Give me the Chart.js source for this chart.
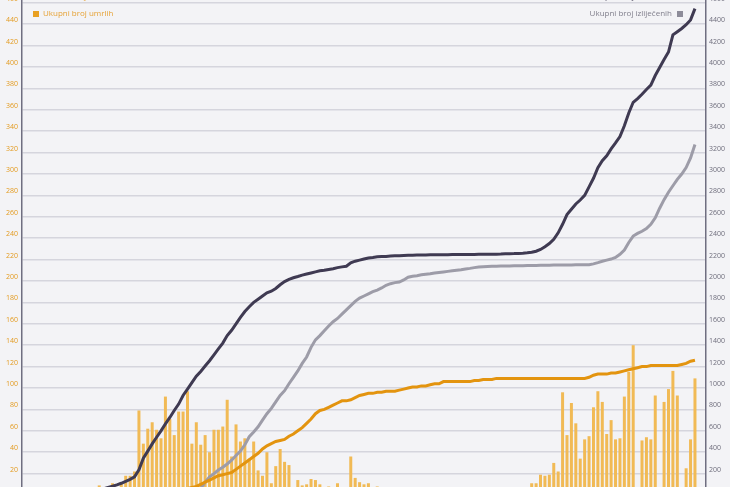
<!DOCTYPE html>
<html>
<head>
<meta charset="utf-8">
<title>COVID-19</title>
<script src="https://cdn.jsdelivr.net/npm/chart.js@4.4.1/dist/chart.umd.min.js"></script>
<style>
    body { margin: 0; background: #f3f3f6; overflow: hidden; font-family: "Open Sans", sans-serif; }
    #wrap { position: relative; width: 730px; height: 487px; overflow: hidden; }
    .leg { position: absolute; font-size: 8px; line-height: 10px; white-space: nowrap; }
    .sq { display: inline-block; width: 6px; height: 6px; vertical-align: -0.5px; }
    .cut .sq { vertical-align: 2px; }
</style>
</head>
<body>
<div id="wrap">
    <canvas id="covidChart" width="730" height="487"></canvas>
    <!-- gornji red legende je odrezan rubom slike -->
    <div class="leg cut" style="left:33px; top:-9px; color:#e6a235;"><span class="sq" style="background:#f1ba55; margin-right:4px;"></span>Dnevni broj zaraženih</div>
    <div class="leg cut" style="right:47px; top:-9px; color:#4a465c;">Ukupni broj zaraženih<span class="sq" style="background:#3f3a52; margin-left:5px;"></span></div>
    <div class="leg" style="left:33px; top:8px; color:#e6a235;"><span class="sq" style="background:#e8a023; margin-right:4px;"></span>Ukupni broj umrlih</div>
    <div class="leg" style="right:47px; top:8px; color:#807f8c;">Ukupni broj izliječenih<span class="sq" style="background:#8d8c99; margin-left:5px;"></span></div>
</div>
<script>
// novi slucajevi po danu (lijeva os)
var dailyCases = [
    0, 1, 2, 0, 0, 0, 1, 1, 2, 1, 0, 1, 1, 2, 3, 2, 4, 9, 6, 5,
    11, 6, 12, 18, 18, 22, 79, 48, 62, 68, 61, 53, 92, 71, 56, 78, 78, 97, 48, 68,
    47, 56, 40, 61, 61, 64, 89, 36, 66, 50, 53, 34, 50, 23, 18, 40, 11, 27, 43, 31,
    28, 7, 14, 9, 10, 15, 14, 10, 5, 8, 4, 11, 5, 3, 36, 16, 12, 10, 11, 4,
    8, 3, 2, 4, 1, 3, 2, 1, 2, 0, 1, 1, 0, 2, 1, 0, 0, 1, 0, 0,
    0, 1, 0, 1, 0, 0, 1, 2, 1, 4, 2, 3, 5, 6, 4, 11, 11, 19, 18, 19,
    30, 22, 96, 56, 86, 67, 34, 52, 55, 82, 97, 87, 57, 70, 52, 53, 92, 115, 140, 3,
    51, 54, 52, 93, 3, 87, 99, 116, 93, 3, 25, 52, 109
];

// ukupni broj zarazenih (desna os)
var totalCases = [
    0, 1, 3, 3, 5, 6, 7, 9, 10, 11, 12, 13, 14, 16, 19, 25, 32, 45, 58, 72,
    82, 95, 110, 128, 146, 170, 235, 345, 410, 478, 540, 600, 665, 725, 790, 850, 930, 990, 1050, 1110,
    1155, 1205, 1255, 1310, 1365, 1420, 1490, 1540, 1600, 1660, 1715, 1760, 1800, 1830, 1860, 1890, 1905, 1930, 1965, 1995,
    2015, 2030, 2042, 2055, 2065, 2075, 2085, 2095, 2100, 2108, 2115, 2125, 2132, 2138, 2170, 2185, 2195, 2205, 2215, 2220,
    2226, 2228, 2230, 2233, 2235, 2236, 2238, 2240, 2241, 2242, 2243, 2244, 2245, 2245, 2246, 2246, 2246, 2247, 2247, 2247,
    2247, 2248, 2248, 2249, 2249, 2250, 2250, 2251, 2252, 2254, 2255, 2256, 2258, 2260, 2263, 2268, 2278, 2295, 2320, 2350,
    2390, 2450, 2530, 2620, 2670, 2720, 2757, 2800, 2880, 2960, 3060, 3125, 3170, 3235, 3290, 3350, 3450, 3570, 3670, 3705,
    3745, 3790, 3830, 3920, 3995, 4070, 4140, 4300, 4330, 4360, 4395, 4440, 4545
];

// ukupni broj izlijecenih (desna os)
var totalRecovered = [
    0, 0, 0, 0, 0, 0, 0, 0, 0, 0, 0, 0, 0, 0, 0, 0, 0, 0, 0, 0,
    0, 0, 0, 0, 0, 0, 2, 3, 5, 5, 5, 5, 5, 8, 10, 15, 20, 25, 35, 45,
    60, 120, 170, 200, 234, 260, 290, 325, 370, 410, 470, 545, 590, 638, 700, 760, 810, 870, 930, 975,
    1040, 1100, 1160, 1230, 1290, 1380, 1450, 1490, 1535, 1580, 1620, 1650, 1690, 1730, 1770, 1810, 1840, 1860, 1880, 1900,
    1915, 1935, 1960, 1975, 1985, 1990, 2010, 2035, 2045, 2050, 2058, 2063, 2068, 2075, 2080, 2085, 2090, 2095, 2100, 2105,
    2112, 2118, 2125, 2130, 2133, 2135, 2137, 2139, 2140, 2141, 2141, 2142, 2142, 2143, 2144, 2145, 2146, 2147, 2148, 2148,
    2149, 2149, 2150, 2150, 2150, 2151, 2151, 2152, 2153, 2160, 2172, 2185, 2195, 2205, 2220, 2250, 2290, 2360, 2420, 2445,
    2465, 2490, 2530, 2590, 2680, 2760, 2830, 2890, 2950, 3000, 3060, 3150, 3275
];

// ukupni broj umrlih (lijeva os)
var totalDeaths = [
    0, 0, 0, 0, 0, 0, 0, 0, 0, 0, 0, 0, 0, 0, 0, 0, 0, 0, 0, 0,
    0, 0, 0, 0, 0, 0, 0, 0, 0, 0, 1, 1, 3, 3, 4, 5, 6, 6, 7, 8,
    10, 12, 14, 16, 18, 19, 20, 21, 24, 27, 30, 33, 36, 39, 43, 46, 48, 50, 51, 52,
    55, 57, 60, 63, 67, 71, 76, 79, 80, 82, 84, 86, 88, 88, 89, 91, 93, 94, 95, 95,
    96, 96, 97, 97, 97, 98, 99, 100, 101, 101, 102, 102, 103, 104, 104, 106, 106, 106, 106, 106,
    106, 106, 107, 107, 108, 108, 108, 109, 109, 109, 109, 109, 109, 109, 109, 109, 109, 109, 109, 109,
    109, 109, 109, 109, 109, 109, 109, 109, 110, 112, 113, 113, 113, 114, 114, 115, 116, 117, 118, 119,
    120, 120, 121, 121, 121, 121, 121, 121, 121, 122, 123, 125, 126
];

// datumi od 24.2.2020. (dvije prazne kategorije na kraju osi)
var days = [];
var start = new Date(2020, 1, 24);
for (var i = 0; i < dailyCases.length + 2; i++) {
    var d = new Date(start.getTime() + i * 86400000);
    days.push(d.getDate() + '.' + (d.getMonth() + 1) + '.');
}

var leftTicks = { min: 7.5, max: 462.6, step: 20 };
var rightTicks = { min: 75, max: 4626, step: 200 };

function plainNumber(value) {
    return String(value); // bez separatora tisucica
}

var ctx = document.getElementById('covidChart').getContext('2d');
var covidChart = new Chart(ctx, {
    type: 'bar',
    data: {
        labels: days,
        datasets: [{
            type: 'line',
            label: 'Ukupni broj umrlih',
            data: totalDeaths,
            yAxisID: 'yLeft',
            borderColor: '#e3940f',
            borderWidth: 3,
            pointRadius: 0,
            tension: 0,
            order: 1
        }, {
            type: 'line',
            label: 'Ukupni broj zaraženih',
            data: totalCases,
            yAxisID: 'yRight',
            borderColor: '#3f3a52',
            borderWidth: 3,
            pointRadius: 0,
            tension: 0,
            order: 2
        }, {
            type: 'line',
            label: 'Ukupni broj izliječenih',
            data: totalRecovered,
            yAxisID: 'yRight',
            borderColor: '#9d9ca8',
            borderWidth: 3,
            pointRadius: 0,
            tension: 0,
            order: 3
        }, {
            label: 'Dnevni broj zaraženih',
            data: dailyCases,
            yAxisID: 'yLeft',
            backgroundColor: '#f1ba55',
            barPercentage: 0.68,
            categoryPercentage: 1,
            order: 4
        }]
    },
    options: {
        responsive: false,
        animation: false,
        layout: { padding: 0 },
        plugins: {
            legend: { display: false },
            tooltip: { enabled: false }
        },
        scales: {
            x: {
                display: false,
                offset: true
            },
            yLeft: {
                position: 'left',
                min: leftTicks.min,
                max: leftTicks.max,
                ticks: {
                    stepSize: leftTicks.step,
                    includeBounds: false,
                    color: '#e39a1e',
                    font: { family: 'Open Sans', size: 7 },
                    padding: 4,
                    labelOffset: -4,
                    callback: plainNumber
                },
                grid: { color: '#d5d5dd', lineWidth: 1.5, drawTicks: false },
                border: { display: true, color: '#6f6e80', width: 1.5 },
                afterFit: function(scale) {
                    scale.width = 22;
                    scale.paddingTop = 0;
                    scale.paddingBottom = 0;
                }
            },
            yRight: {
                position: 'right',
                min: rightTicks.min,
                max: rightTicks.max,
                ticks: {
                    stepSize: rightTicks.step,
                    includeBounds: false,
                    color: '#6e6d7c',
                    font: { family: 'Open Sans', size: 7 },
                    padding: 3,
                    labelOffset: -4,
                    callback: plainNumber
                },
                grid: { display: false, drawTicks: false },
                border: { display: true, color: '#6f6e80', width: 1.5 },
                afterFit: function(scale) {
                    scale.width = 24;
                    scale.paddingTop = 0;
                    scale.paddingBottom = 0;
                }
            }
        }
    }
});
</script>
</body>
</html>
